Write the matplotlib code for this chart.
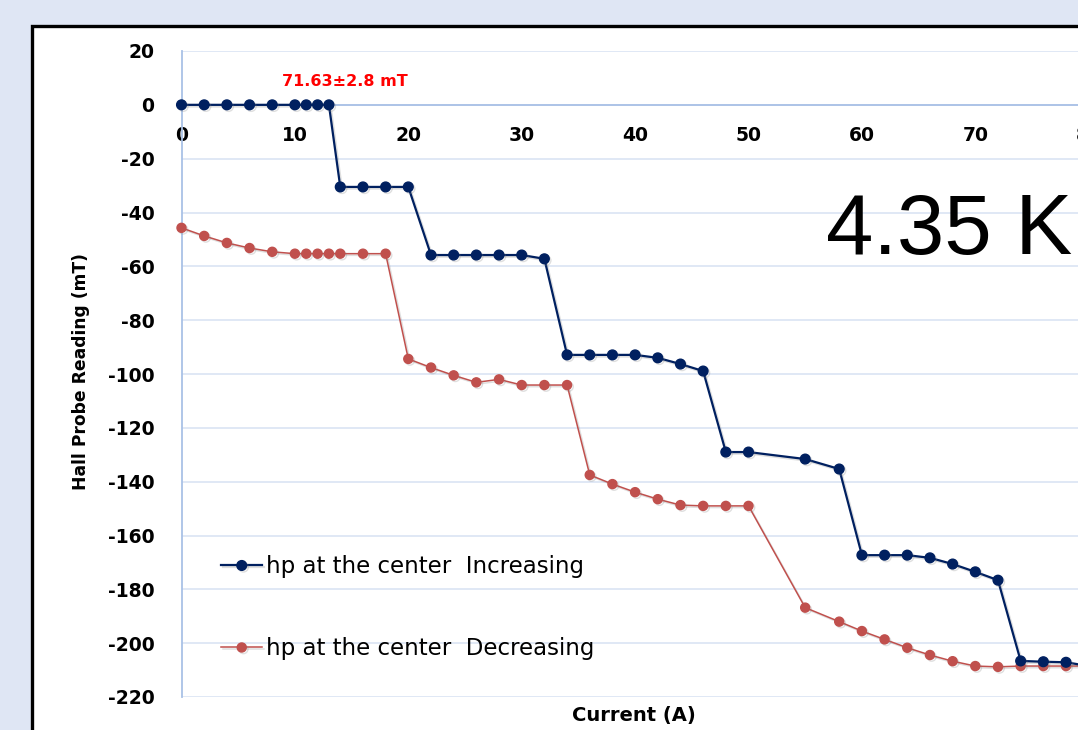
import matplotlib
matplotlib.use("Agg")
import matplotlib.pyplot as plt
from matplotlib.patches import Rectangle
from matplotlib.lines import Line2D
import matplotlib.patheffects as pe

# ---- data ----
current = [0, 2, 4, 6, 8, 10, 11, 12, 13, 14, 16, 18, 20, 22, 24, 26, 28, 30, 32, 34,
           36, 38, 40, 42, 44, 46, 48, 50, 55, 58, 60, 62, 64, 66, 68, 70, 72, 74, 76, 78, 80]
hp_increasing = [0, 0, 0, 0, 0, 0, 0, 0, 0, -30.5, -30.5, -30.5, -30.5, -55.8, -55.8, -55.8,
                 -55.8, -55.8, -57.2, -92.9, -92.9, -92.9, -92.9, -94.0, -96.3, -98.9, -129.0,
                 -129.0, -131.6, -135.3, -167.3, -167.3, -167.3, -168.3, -170.6, -173.5, -176.6,
                 -206.6, -206.9, -207.1, -208.5]
hp_decreasing = [-45.7, -48.7, -51.3, -53.2, -54.6, -55.3, -55.3, -55.3, -55.3, -55.3, -55.3,
                 -55.3, -94.4, -97.6, -100.5, -103.1, -102.0, -104.1, -104.1, -104.1, -137.5,
                 -140.9, -143.9, -146.5, -148.7, -149.0, -149.0, -149.0, -186.8, -192.0, -195.5,
                 -198.6, -201.7, -204.4, -206.7, -208.5, -208.8, -208.5, -208.5, -208.5, -208.5]
label_inc = "hp at the center  Increasing"
label_dec = "hp at the center  Decreasing"
x_ticks = [0, 10, 20, 30, 40, 50, 60, 70, 80, 90]
y_ticks = list(range(-220, 21, 20))
annotation = "71.63\u00b12.8 mT"
temp_text = "4.35 K"
xlabel = "Current (A)"
ylabel = "Hall Probe Reading (mT)"

plt.rcParams['axes.unicode_minus'] = False

W, H = 1078, 730
fig = plt.figure(figsize=(W / 100, H / 100), dpi=100)
fig.patch.set_facecolor('#dfe6f4')

def fx(px):
    return px / W

def fy(py):
    return 1 - py / H

# white panel with thick black border (cut off at right/bottom)
panel = Rectangle((fx(31.7), -0.2), 1.5, fy(26) + 0.2, transform=fig.transFigure,
                  facecolor='white', edgecolor='black', linewidth=2.4, zorder=-10)
fig.patches.append(panel)

# axes: x 0 at px 181.5, 11.34 px per A ; y 20 at py 51, -220 at py 697
x0_px, sx = 181.5, 11.34
xmax = 90
left = fx(x0_px)
width = xmax * sx / W
ax = fig.add_axes([left, fy(697), width, (697 - 51) / H])
ax.set_facecolor('none')
ax.set_xlim(0, xmax)
ax.set_ylim(-220, 20)

grid_c = '#d7e2f3'
axis_c = '#a9c1e6'
ax.set_yticks(y_ticks)
ax.set_xticks(x_ticks)
ax.grid(axis='y', color=grid_c, linewidth=1.1, zorder=0)
ax.set_axisbelow(True)
for s in ['top', 'right']:
    ax.spines[s].set_visible(False)
ax.spines['bottom'].set_position(('data', 0))
ax.spines['bottom'].set_color(axis_c)
ax.spines['bottom'].set_linewidth(1.3)
ax.spines['left'].set_color(axis_c)
ax.spines['left'].set_linewidth(1.3)

tick_font = dict(family='DejaVu Sans', weight='bold', size=13.5)
ax.tick_params(axis='x', length=0, pad=15.5)
ax.tick_params(axis='y', length=0, pad=19.5)
ax.set_xticklabels([str(v) for v in x_ticks], **tick_font)
ax.set_yticklabels([str(v) for v in y_ticks], **tick_font)

shadow = [pe.SimpleLineShadow(offset=(1.2, -1.2), alpha=0.25, shadow_color='gray'), pe.Normal()]
blue = '#002060'
red = '#c0504d'
l1, = ax.plot(current, hp_increasing, color=blue, lw=1.6, marker='o', ms=7,
              mec=blue, mfc=blue, zorder=4, path_effects=shadow, clip_on=False)
l2, = ax.plot(current, hp_decreasing, color=red, lw=1.1, marker='o', ms=6.5,
              mec=red, mfc=red, zorder=3, path_effects=shadow, clip_on=False)

# legends (two separate entries placed like the original)
leg_kw = dict(frameon=False, fontsize=16.5, handlelength=1.81, handletextpad=0.17,
              borderpad=0, borderaxespad=0, loc='center left', bbox_transform=fig.transFigure,
              prop=dict(family='DejaVu Sans', size=16.5))
leg_kw.pop('fontsize')
lg1 = ax.legend([l1], [label_inc], bbox_to_anchor=(fx(221), fy(567)), **leg_kw)
ax.add_artist(lg1)
lg2 = ax.legend([l2], [label_dec], bbox_to_anchor=(fx(221), fy(649)), **leg_kw)

# annotations
fig.text(fx(345), fy(81), annotation, color='#ff0000', family='DejaVu Sans', weight='bold',
         size=11.5, ha='center', va='center')
fig.text(fx(826), fy(254.3), temp_text, color='black', family='Liberation Sans', size=61.3,
         ha='left', va='baseline')
fig.text(fx(634), fy(715), xlabel, family='DejaVu Sans', weight='bold', size=14,
         ha='center', va='center')
fig.text(fx(81), fy(371), ylabel, family='DejaVu Sans', weight='bold', size=12.3,
         ha='center', va='center', rotation=90)

fig.savefig('out.png', dpi=100, facecolor=fig.get_facecolor())
